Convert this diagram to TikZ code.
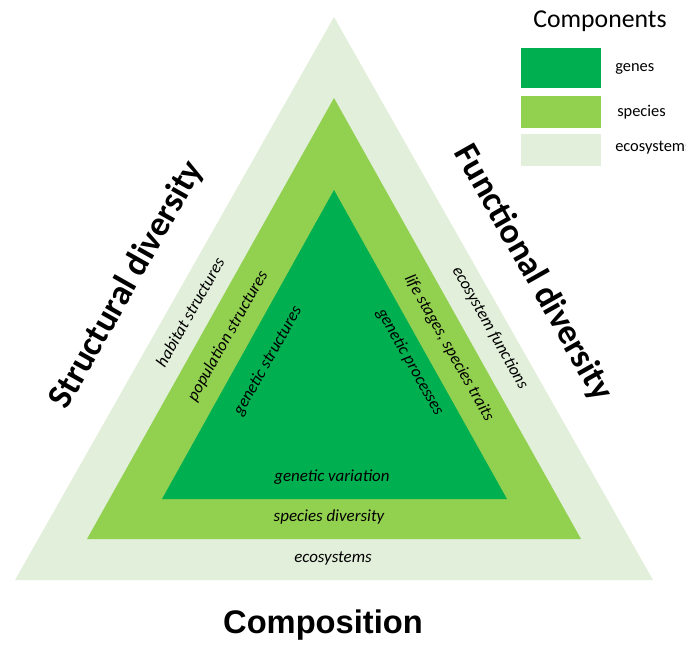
\documentclass[tikz,border=0pt]{standalone}
\usepackage{fontspec}
\setmainfont{Carlito}
\newfontfamily\arialfont{Liberation Sans}
\definecolor{geneGreen}{HTML}{00B050}
\definecolor{speciesGreen}{HTML}{92D050}
\definecolor{ecoGreen}{HTML}{E2EFDA}

\begin{document}
\begin{tikzpicture}[%%
  x=0.75pt,y=-0.75pt,%%
  layerStyle/.style={font=\fontsize{12.7}{15}\selectfont\itshape,inner sep=0pt},%%
  sideTitleStyle/.style={font=\fontsize{26.5}{31}\selectfont\bfseries,inner sep=0pt},%%
  legendLabelStyle/.style={font=\fontsize{12.3}{14}\selectfont,anchor=west,inner sep=0pt}%%
]
%%
%%
\pgfmathsetmacro{\apexx}{334}
\pgfmathsetmacro{\slope}{60.5}  %% the angle of the sides
%%
\useasboundingbox (0,0) rectangle (686,644);
%%
%% Corners of the three triangles.
\coordinate (ecoTop) at (\apexx,17);
\coordinate (ecoLeft) at (15,580);
\coordinate (ecoRight) at (653,580);
\coordinate (speciesTop) at (\apexx,98);
\coordinate (speciesLeft) at (87,539);
\coordinate (speciesRight) at (581,539);
\coordinate (geneTop) at (\apexx,190);
\coordinate (geneLeft) at (162,499);
\coordinate (geneRight) at (507,499);
%%
%% Draw the nested triangles.
\fill[ecoGreen] (ecoTop) -- (ecoRight) -- (ecoLeft) -- cycle;
\fill[speciesGreen] (speciesTop) -- (speciesRight) -- (speciesLeft) -- cycle;
\fill[geneGreen] (geneTop) -- (geneRight) -- (geneLeft) -- cycle;
%%
%% Labels along the bases.
\node[layerStyle] (geneBase) at (332,477) {genetic variation};
\node[layerStyle] (speciesBase) at (329,517) {species diversity};
\node[layerStyle] (ecoBase) at (333,559) {ecosystems};
%%
%% Labels along the left sides.
\node[layerStyle,rotate=\slope] (ecoLeftLabel) at (190,312) {habitat structures};
\node[layerStyle,rotate=\slope] (speciesLeftLabel) at (228,336) {population structures};
\node[layerStyle,rotate=\slope] (geneLeftLabel) at (268,361) {genetic structures};
%%
%% Labels along the right sides.
\node[layerStyle,rotate=-\slope] (ecoRightLabel) at (490,328) {ecosystem functions};
\node[layerStyle,rotate=-\slope] (speciesRightLabel) at (449,348) {life stages, species traits};
\node[layerStyle,rotate=-\slope] (geneRightLabel) at (410,362) {genetic processes};
%%
%% Titles of the three sides.
\node[sideTitleStyle,rotate=\slope] (structTitle) at (127,285) {Structural diversity};
\node[sideTitleStyle,rotate=-\slope] (funcTitle) at (533,273) {Functional diversity};
\node[font=\arialfont\fontsize{24.5}{28}\selectfont\bfseries,inner sep=0pt] (compTitle) at (323,625) {Composition};
%%
%% The legend.
\node[font=\fontsize{19.3}{22}\selectfont,inner sep=0pt] (legendTitle) at (600,21) {Components};
\fill[geneGreen] (521,48) rectangle (601,88);
\fill[speciesGreen] (521,96) rectangle (601,128);
\fill[ecoGreen] (521,134) rectangle (601,166);
\node[legendLabelStyle] (geneKey) at (615,69) {genes};
\node[legendLabelStyle] (speciesKey) at (617,112) {species};
\node[legendLabelStyle] (ecoKey) at (615,148) {ecosystems};
\end{tikzpicture}
\end{document}
